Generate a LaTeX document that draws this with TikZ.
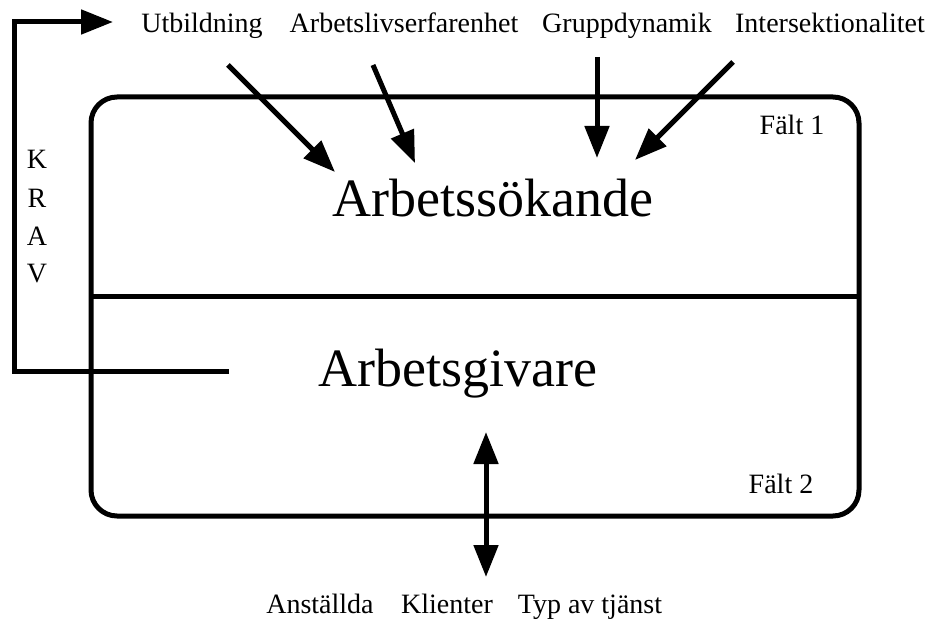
\documentclass[tikz,border=0pt]{standalone}
\usepackage{fontspec}
\setmainfont{Liberation Serif}
\usetikzlibrary{arrows.meta}
\tikzset{
	lbl/.style={anchor=base, inner sep=0pt, font=\fontsize{28}{30}\selectfont},
	big/.style={anchor=base, inner sep=0pt, font=\fontsize{54}{58}\selectfont},
	thick line/.style={line width=5pt},
	bigtip/.style={-{Triangle[length=32pt,width=24pt]}}
}

\begin{document}
\begin{tikzpicture}[x=1pt,y=-1pt]
		%%%%% START %%%%%
		\useasboundingbox (0,0) rectangle (935,620);
		
		% field box
		\draw[thick line, rounded corners=26pt] (91,97) rectangle (859,516);
		\draw[thick line] (91,297) -- (859,297);
		
		\node[big] (seeker) at (493,217) {Arbetssökande};
		\node[big] (employer) at (458,387) {Arbetsgivare};
		\node[lbl] (field1) at (792,135) {Fält 1};
		\node[lbl] (field2) at (781,493) {Fält 2};
		
		% top labels
		\node[lbl] (edu) at (202,33) {Utbildning};
		\node[lbl] (work) at (404,33) {Arbetslivserfarenhet};
		\node[lbl] (group) at (627,33) {Gruppdynamik};
		\node[lbl] (inter) at (830,33) {Intersektionalitet};
		
		\coordinate (edu-s) at (228,65);
		\coordinate (edu-e) at (335,172);
		\coordinate (work-s) at (373,65);
		\coordinate (work-e) at (415,163);
		\coordinate (group-s) at (597,57);
		\coordinate (group-e) at (597,158);
		\coordinate (inter-s) at (733,62);
		\coordinate (inter-e) at (635,160);
		
		\draw[thick line, bigtip] (edu-s) -- (edu-e);
		\draw[thick line, bigtip] (work-s) -- (work-e);
		\draw[thick line, bigtip] (group-s) -- (group-e);
		\draw[thick line, bigtip] (inter-s) -- (inter-e);
		
		% KRAV loop
		\node[lbl] (k) at (37,169) {K};
		\node[lbl] (r) at (37,208) {R};
		\node[lbl] (a) at (37,246) {A};
		\node[lbl] (v) at (37,283) {V};
		\coordinate (req-s) at (229,372);
		\coordinate (req-e) at (113,22);
		\draw[thick line, bigtip] (req-s) -- (14,372) -- (14,22) -- (req-e);
		
		% bottom
		\coordinate (emp-top) at (486,432);
		\coordinate (emp-bot) at (486,577);
		\draw[thick line, {Triangle[length=32pt,width=24pt]}-{Triangle[length=32pt,width=24pt]}] (emp-top) -- (emp-bot);
		
		\node[lbl] (staff) at (320,613) {Anställda};
		\node[lbl] (clients) at (447,613) {Klienter};
		\node[lbl] (service) at (590,613) {Typ av tjänst};
		%%%%% END %%%%%
	\end{tikzpicture}
\end{document}
